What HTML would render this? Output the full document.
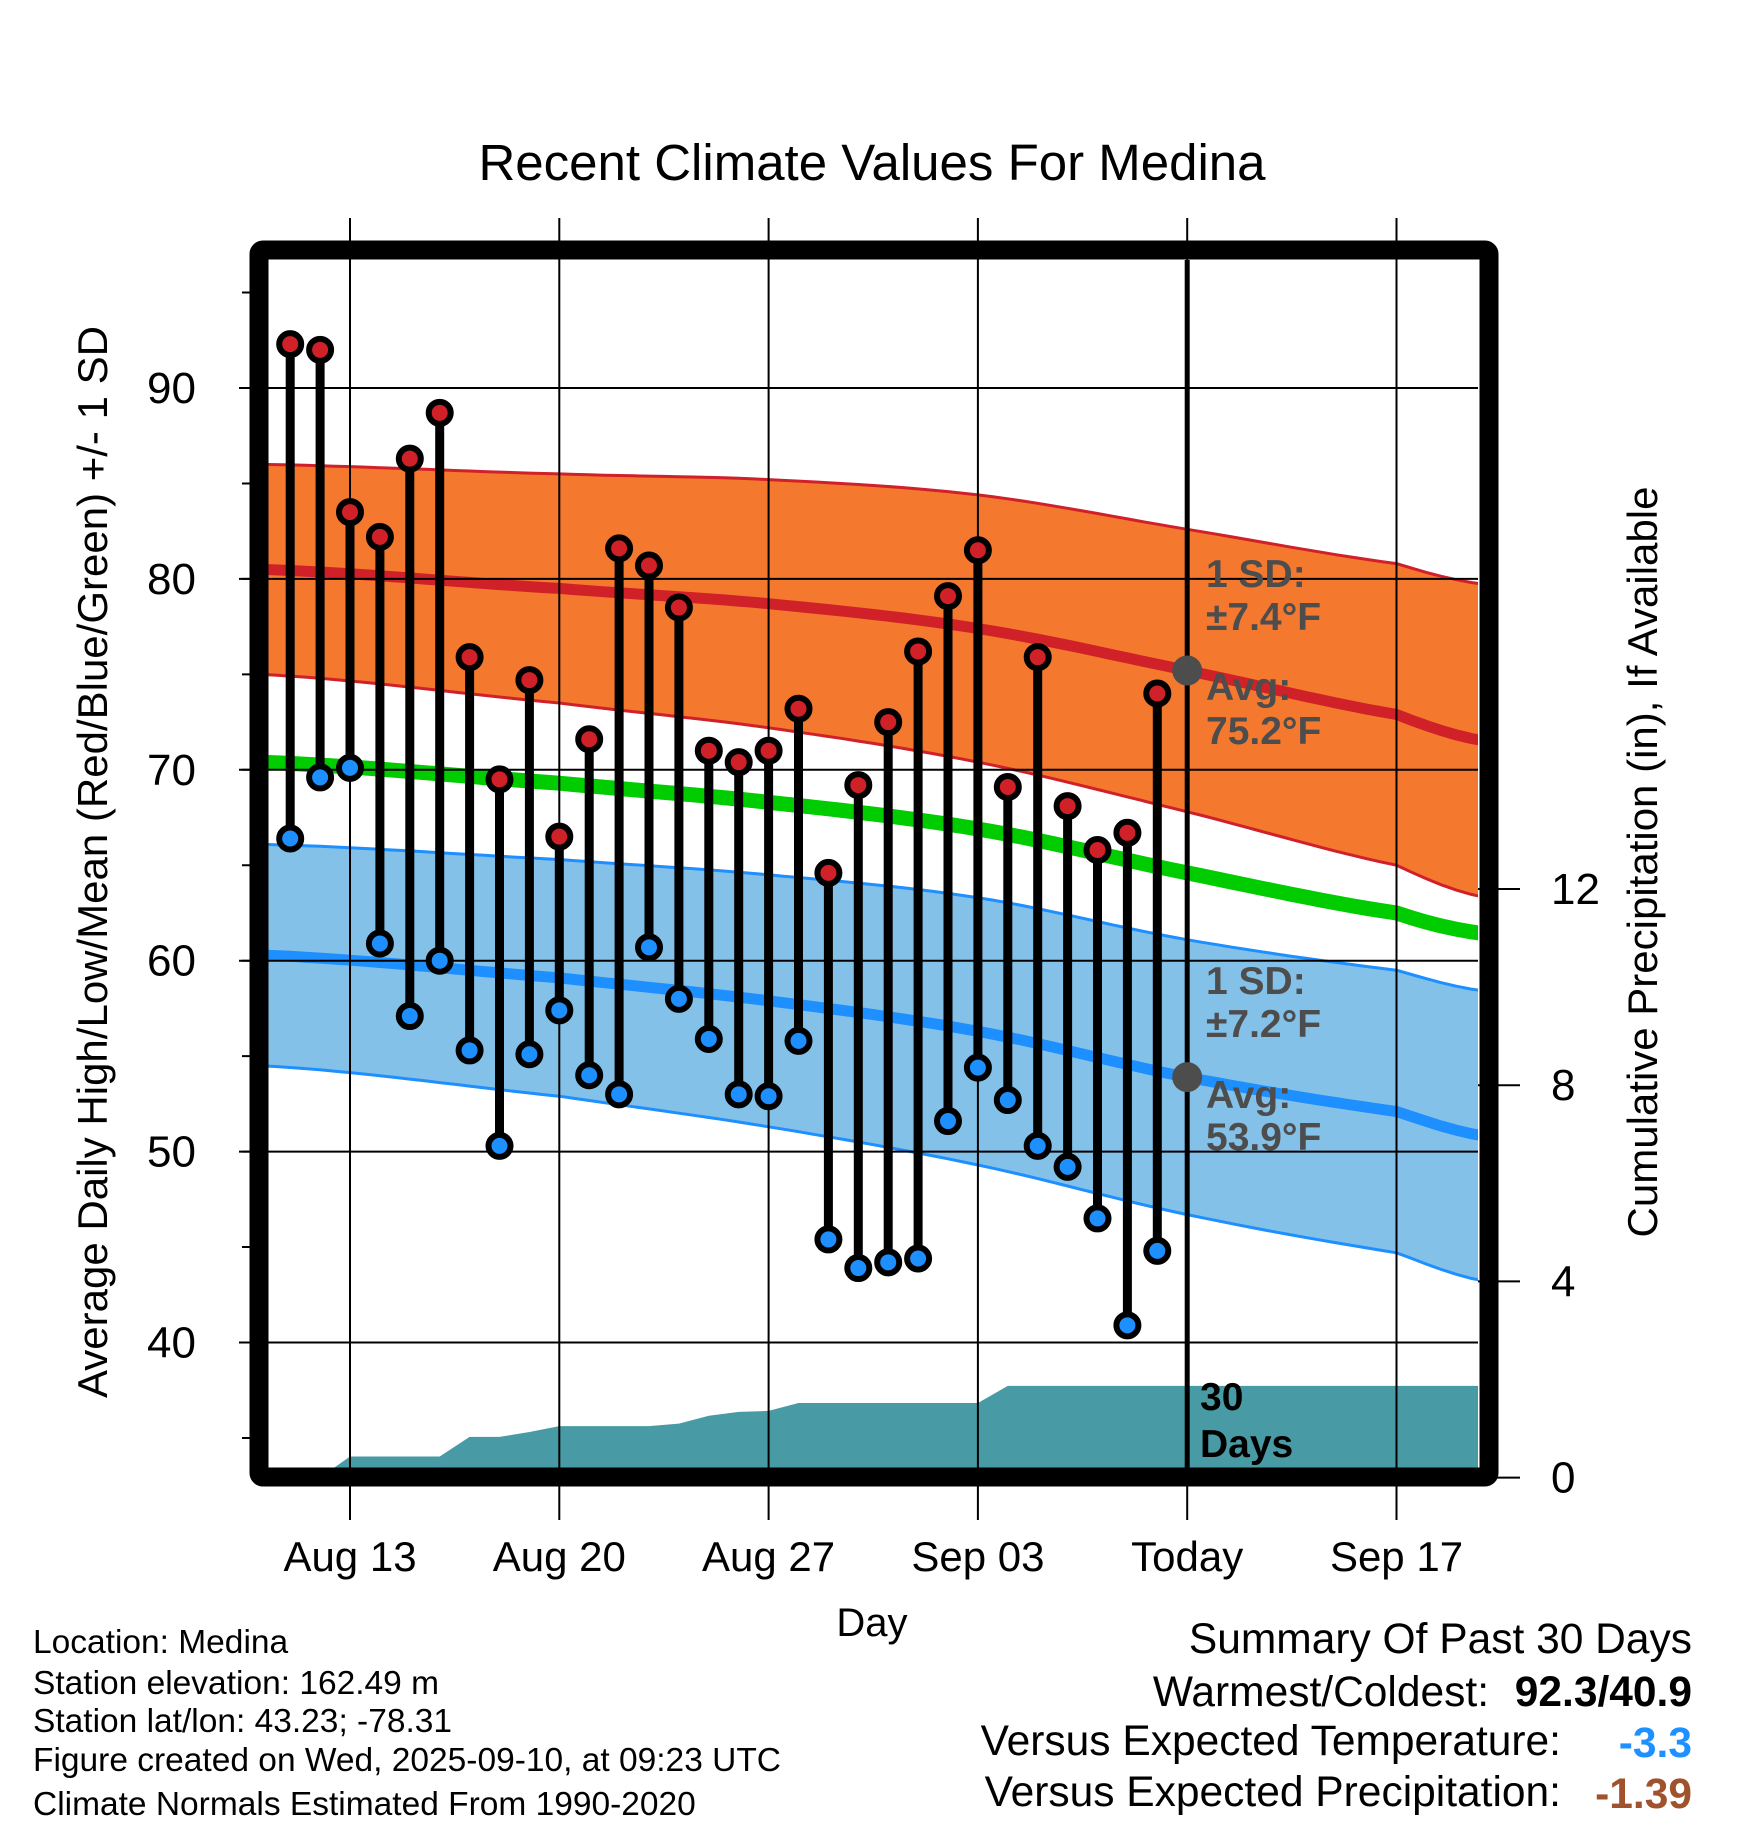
<!DOCTYPE html>
<html><head><meta charset="utf-8">
<style>
html,body{margin:0;padding:0;background:#fff;}
svg{display:block;font-family:"Liberation Sans",Arial,sans-serif;}
</style></head>
<body>
<svg id="chart" width="1748" height="1828" viewBox="0 0 1748 1828" xmlns="http://www.w3.org/2000/svg">
<rect width="1748" height="1828" fill="#fff"/>
<text x="872" y="180" font-size="51" text-anchor="middle">Recent Climate Values For Medina</text>
<g id="plot"></g>
<text transform="translate(107,862) rotate(-90)" font-size="42" text-anchor="middle">Average Daily High/Low/Mean (Red/Blue/Green) +/- 1 SD</text>
<text transform="translate(1657,862) rotate(-90)" font-size="42" text-anchor="middle">Cumulative Precipitation (in), If Available</text>
<text x="872" y="1636" font-size="40" text-anchor="middle">Day</text>
<g font-size="33.5">
<text x="33" y="1653">Location: Medina</text>
<text x="33" y="1694">Station elevation: 162.49 m</text>
<text x="33" y="1732">Station lat/lon: 43.23; -78.31</text>
<text x="33" y="1771">Figure created on Wed, 2025-09-10, at 09:23 UTC</text>
<text x="33" y="1815">Climate Normals Estimated From 1990-2020</text>
</g>
<g font-size="42.5">
<text x="1692" y="1653" text-anchor="end">Summary Of Past 30 Days</text>
<text x="1489" y="1706" text-anchor="end">Warmest/Coldest:</text>
<text x="1692" y="1706" text-anchor="end" font-weight="bold">92.3/40.9</text>
<text x="1561" y="1755" text-anchor="end">Versus Expected Temperature:</text>
<text x="1692" y="1757" text-anchor="end" font-weight="bold" fill="#1e90ff">-3.3</text>
<text x="1561" y="1806" text-anchor="end">Versus Expected Precipitation:</text>
<text x="1692" y="1808" text-anchor="end" font-weight="bold" fill="#a0522d">-1.39</text>
</g>
</svg>
<script>
// Data (days counted from Aug 11 = 0)
const highs=[92.3,92.0,83.5,82.2,86.3,88.7,75.9,69.5,74.7,66.5,71.6,81.6,80.7,78.5,71.0,70.4,71.0,73.2,64.6,69.2,72.5,76.2,79.1,81.5,69.1,75.9,68.1,65.8,66.7,74.0];
const lows=[66.4,69.6,70.1,60.9,57.1,60.0,55.3,50.3,55.1,57.4,54.0,53.0,60.7,58.0,55.9,53.0,52.9,55.8,45.4,43.9,44.2,44.4,51.6,54.4,52.7,50.3,49.2,46.5,40.9,44.8];
const precip=[0,0,0.43,0.43,0.43,0.43,0.83,0.83,0.93,1.05,1.05,1.05,1.05,1.1,1.26,1.34,1.36,1.52,1.52,1.52,1.52,1.52,1.52,1.52,1.87,1.87,1.87,1.87,1.87,1.87];
const normDays=[-1,9,16,23,30,37,40];
const normHigh=[80.5,79.5,78.7,77.4,75.2,72.9,71.5];
const normHighSD=[5.5,6.0,6.5,7.0,7.4,7.9,8.2];
const normMean=[70.4,69.3,68.3,66.9,64.6,62.5,61.4];
const normLow=[60.3,59.1,57.9,56.3,53.9,52.1,50.8];
const normLowSD=[5.8,6.2,6.6,7.0,7.2,7.4,7.6];
const yTicks=[40,50,60,70,80,90];
const y2Ticks=[0,4,8,12];
const xTickDays=[2,9,16,23,30,37];
const xTickLabels=["Aug 13","Aug 20","Aug 27","Sep 03","Today","Sep 17"];
const todayDay=30;

const L=268,R=1478,T=260,B=1468;
const X=d=>350+(d-2)*29.9;
const Y=v=>388+(90-v)*19.09;
const P=v=>1477.6-49.05*v;
const NS="http://www.w3.org/2000/svg";
const g=document.getElementById('plot');
function mk(tag,attrs,parent){const e=document.createElementNS(NS,tag);for(const k in attrs)e.setAttribute(k,attrs[k]);(parent||g).appendChild(e);return e;}

// smooth interpolation (Catmull-Rom) through normals
function interp(arr,d){
  const n=normDays.length;let i=0;
  while(i<n-2&&d>normDays[i+1])i++;
  const t=(d-normDays[i])/(normDays[i+1]-normDays[i]);
  const p0=arr[Math.max(i-1,0)],p1=arr[i],p2=arr[i+1],p3=arr[Math.min(i+2,n-1)];
  return 0.5*((2*p1)+(-p0+p2)*t+(2*p0-5*p1+4*p2-p3)*t*t+(-p0+3*p1-3*p2+p3)*t*t*t);
}
const samp=[];for(let d=-1;d<=40;d+=0.5)samp.push(d);
function curve(arr,off,sgn){return samp.map(d=>[X(d),Y(interp(arr,d)+(off?sgn*interp(off,d):0))]);}
function pstr(p){return p.map(q=>q[0].toFixed(1)+','+q[1].toFixed(1)).join(' ');}

const defs=mk('defs',{});
const cp=mk('clipPath',{id:'clip'},defs);
mk('rect',{x:L,y:T,width:R-L,height:B-T},cp);
const clipG=mk('g',{'clip-path':'url(#clip)'});

function band(m,sd,color,edge,name){
  const up=curve(m,sd,1),lo=curve(m,sd,-1);
  const b=mk('polygon',{points:pstr(up.concat(lo.slice().reverse())),fill:color},clipG);
  
  
  mk('polyline',{points:pstr(up),fill:'none',stroke:edge,'stroke-width':3},clipG);
  mk('polyline',{points:pstr(lo),fill:'none',stroke:edge,'stroke-width':3},clipG);
}
band(normHigh,normHighSD,'#f4782e','#d0202a','high-sd-band');
band(normLow,normLowSD,'#84c1e8','#1e8fff','low-sd-band');

// precip area
const pts=[[L,P(0)]];
precip.forEach((v,i)=>pts.push([X(i),P(v)]));
pts.push([R,P(precip[precip.length-1])]);
pts.push([R,P(0)]);
const pa=mk('polygon',{points:pstr(pts),fill:'#489ba4'},clipG);



// grid
yTicks.forEach(v=>{mk('line',{x1:239,x2:R,y1:Y(v),y2:Y(v),stroke:'#000','stroke-width':2});});
for(let v=35;v<=95;v+=5){mk('line',{x1:242,x2:L,y1:Y(v),y2:Y(v),stroke:'#000','stroke-width':2});}
xTickDays.forEach((d,i)=>{
  mk('line',{x1:X(d),x2:X(d),y1:218,y2:1520,stroke:'#000','stroke-width':2});
  const t=mk('text',{x:X(d),y:1571,'font-size':42,'text-anchor':'middle'});
  t.textContent=xTickLabels[i];
  
  
});
yTicks.forEach(v=>{
  const t=mk('text',{x:196,y:Y(v)+15,'font-size':44,'text-anchor':'end'});
  t.textContent=v;
  
  
});
y2Ticks.forEach(v=>{
  mk('line',{x1:R,x2:1520,y1:P(v),y2:P(v),stroke:'#000','stroke-width':2});
  const t=mk('text',{x:1551,y:P(v)+15,'font-size':44});
  t.textContent=v;
  
  
});

// normal lines
const nh=mk('polyline',{points:pstr(curve(normHigh)),fill:'none',stroke:'#cf2127','stroke-width':11},clipG);


const nl=mk('polyline',{points:pstr(curve(normLow)),fill:'none',stroke:'#1e8fff','stroke-width':11},clipG);


const nm=mk('polyline',{points:pstr(curve(normMean)),fill:'none',stroke:'#00cc00','stroke-width':15},clipG);



// today line
mk('line',{x1:X(todayDay),x2:X(todayDay),y1:T,y2:B,stroke:'#000','stroke-width':5});

// stems & markers
highs.forEach((h,i)=>{
  const x=X(i);
  const s=mk('line',{x1:x,x2:x,y1:Y(h),y2:Y(lows[i]),stroke:'#000','stroke-width':9});
  
  
});
highs.forEach((h,i)=>{
  const x=X(i);
  const a=mk('circle',{cx:x,cy:Y(h),r:11,fill:'#cf2127',stroke:'#000','stroke-width':6});
  
  
  const b=mk('circle',{cx:x,cy:Y(lows[i]),r:11,fill:'#1e8fff',stroke:'#000','stroke-width':6});
  
  
});

// today avg markers
[interp(normHigh,todayDay),interp(normLow,todayDay)].forEach(v=>{
  const c=mk('circle',{cx:X(todayDay),cy:Y(v),r:15,fill:'#4d4d4d'});
  
  
});

// annotations
function txt(s,x,y,size,fill,name){const t=mk('text',{x:x,y:y,'font-size':size,'font-weight':'bold',fill:fill});t.textContent=s;return t;}
const ax=1206;
txt('1 SD:',ax,587,39,'#4d4d4d','high-sd-label');
txt('±7.4°F',ax,630,39,'#4d4d4d','high-sd-value');
txt('Avg:',ax,700,39,'#4d4d4d','high-avg-label');
txt('75.2°F',ax,744,39,'#4d4d4d','high-avg-value');
txt('1 SD:',ax,994,39,'#4d4d4d','low-sd-label');
txt('±7.2°F',ax,1037,39,'#4d4d4d','low-sd-value');
txt('Avg:',ax,1108,39,'#4d4d4d','low-avg-label');
txt('53.9°F',ax,1150,39,'#4d4d4d','low-avg-value');
txt('30',1200,1410,39,'#000','precip-days-label');
txt('Days',1200,1457,39,'#000','precip-days-label-2');

// frame
const fr=mk('rect',{x:259,y:250,width:1230,height:1227,fill:'none',stroke:'#000','stroke-width':19,rx:4});


</script>
</body></html>
